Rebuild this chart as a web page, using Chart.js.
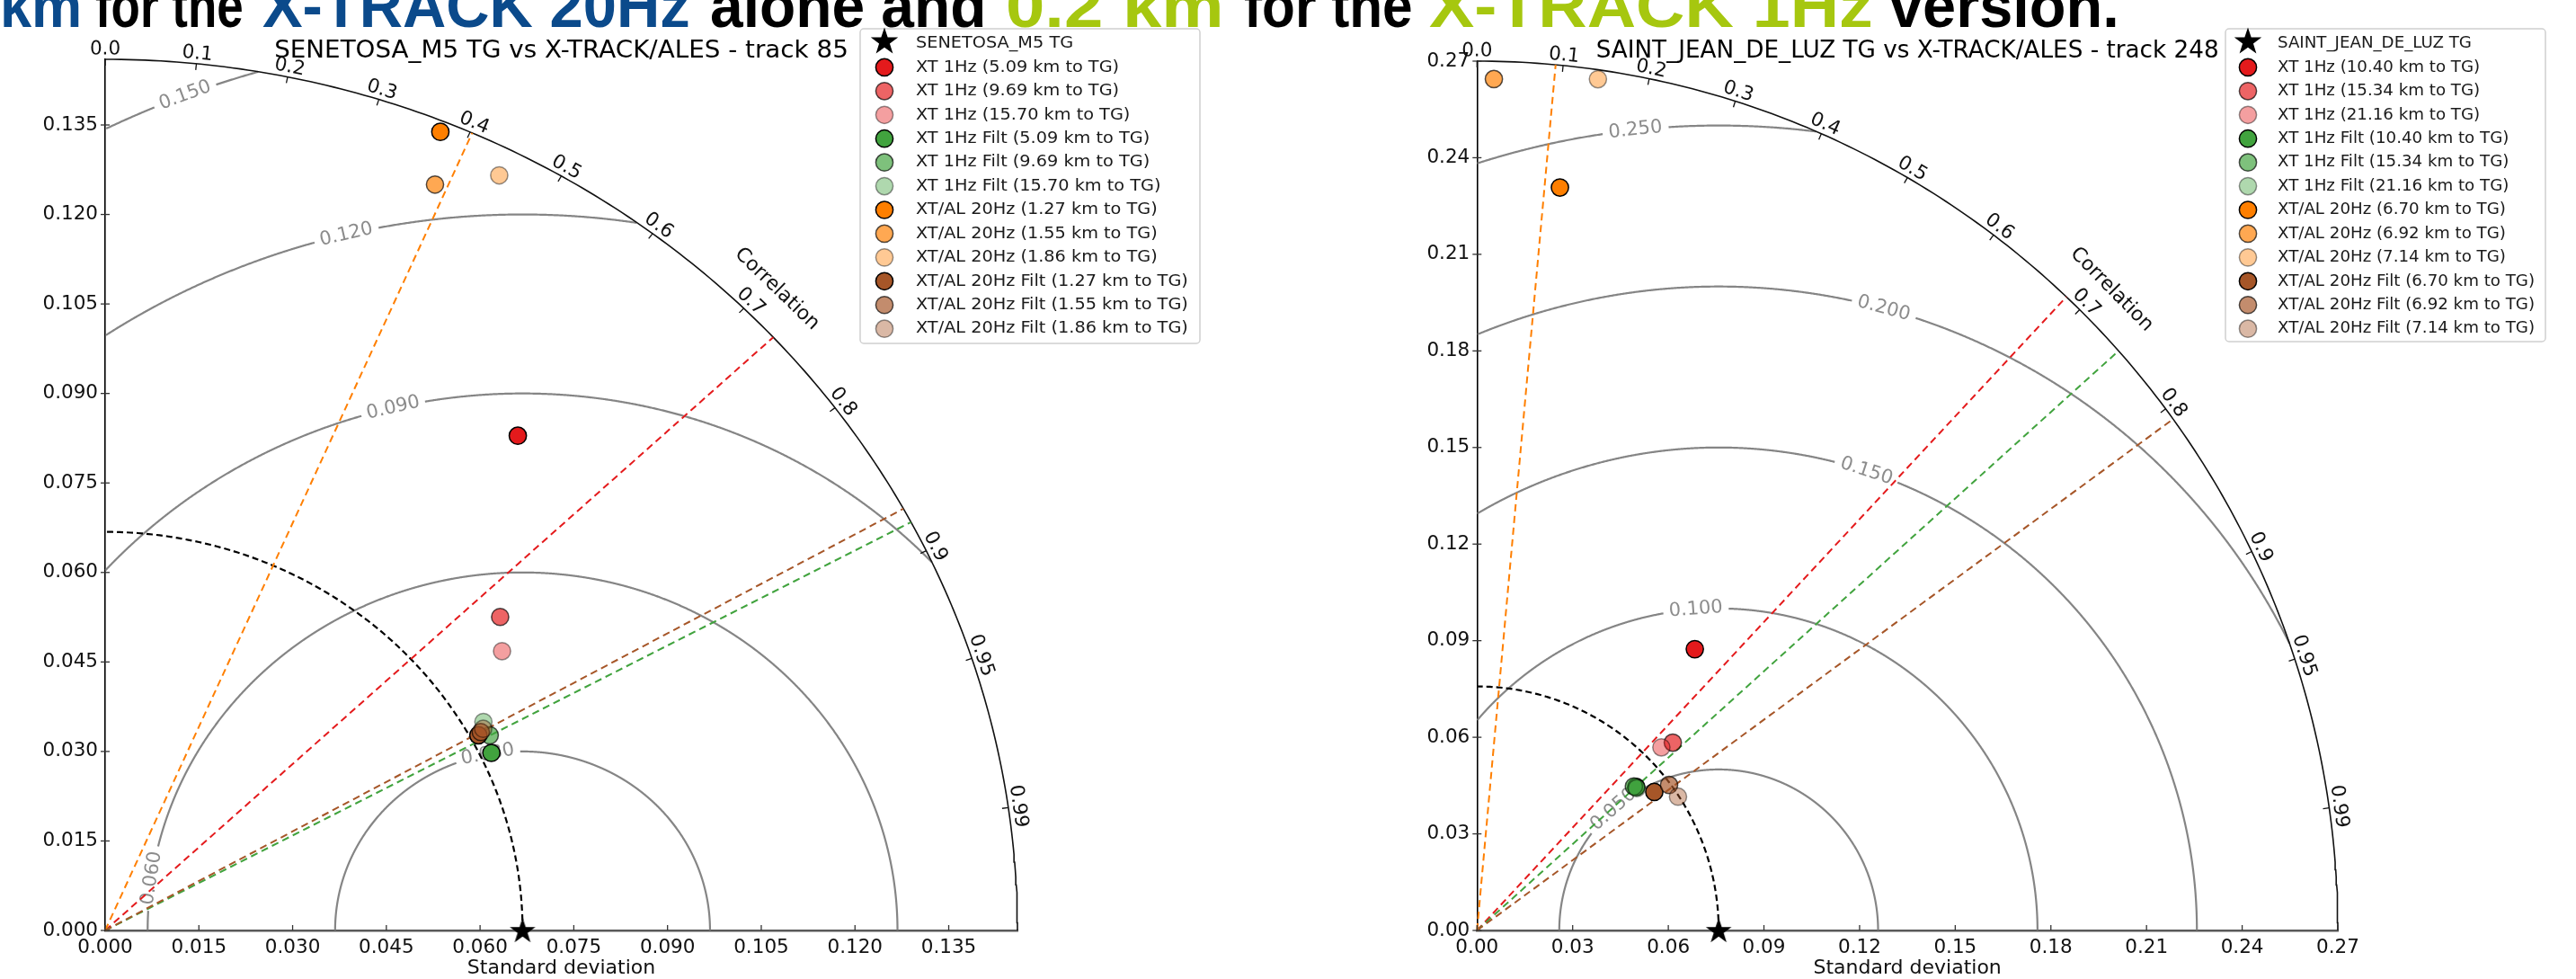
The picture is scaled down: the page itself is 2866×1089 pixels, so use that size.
<!DOCTYPE html>
<html>
<head>
<meta charset="utf-8">
<title>Taylor diagrams - X-TRACK / ALES vs tide gauges</title>
<script src="https://cdn.jsdelivr.net/npm/chart.js@4.4.0/dist/chart.umd.min.js"></script>
<style>
  html, body { margin: 0; padding: 0; background: #fff; }
  body { width: 2866px; height: 1089px; position: relative; overflow: hidden; }
  #banner span { position: absolute; top: -33px; line-height: 1; white-space: nowrap; transform-origin: 0 0;
                 font: bold 68px "Liberation Sans", Arial, sans-serif; color: #000; }
  #banner .blue { color: #0b4a8b; }
  #banner .lime { color: #a6c70f; }
  .panel { position: absolute; top: 0; width: 1433px; height: 1089px; }
</style>
</head>
<body>
<div id="banner">
  <span class="blue" data-l="0" data-r="91">km</span>
  <span data-l="106" data-r="271">for the</span>
  <span class="blue" data-l="292" data-r="768">X-TRACK 20Hz</span>
  <span data-l="790" data-r="1097">alone and</span>
  <span class="lime" data-l="1119" data-r="1362">0.2 km</span>
  <span data-l="1384" data-r="1572">for the</span>
  <span class="lime" data-l="1590" data-r="2084">X-TRACK 1Hz</span>
  <span data-l="2102" data-r="2358">version.</span>
</div>
<div class="panel" style="left:0"><canvas id="taylorLeft" width="1433" height="1089"></canvas></div>
<div class="panel" style="left:1433px"><canvas id="taylorRight" width="1433" height="1089"></canvas></div>

<script>
// ---- shared ----
const corrTickValues = [0, 0.1, 0.2, 0.3, 0.4, 0.5, 0.6, 0.7, 0.8, 0.9, 0.95, 0.99];
const kindNames = ["XT 1Hz", "XT 1Hz Filt", "XT/AL 20Hz", "XT/AL 20Hz Filt"];
const kindColors = [[228, 26, 28], [65, 163, 62], [255, 127, 0], [166, 86, 40]];
const shadeAlpha = [1, 0.68, 0.42];

// ---- SENETOSA_M5, track 85 ----
const senTitle = "SENETOSA_M5 TG vs X-TRACK/ALES - track 85";
const senRefName = "SENETOSA_M5 TG";
const senDist1Hz = ["5.09", "9.69", "15.70"];
const senDist20Hz = ["1.27", "1.55", "1.86"];
const senStd  = [0.1060, 0.0822, 0.0789, 0.0686, 0.0697, 0.0699, 0.1442, 0.1357, 0.1414, 0.0681, 0.0687, 0.0693];
const senCorr = [0.623, 0.769, 0.805, 0.901, 0.883, 0.866, 0.372, 0.389, 0.446, 0.877, 0.875, 0.873];
const senRefStd = 0.0668;
const senRmsLevels = [0.03, 0.06, 0.09, 0.12, 0.15];
const senStdTicks = [0, 0.015, 0.03, 0.045, 0.06, 0.075, 0.09, 0.105, 0.12, 0.135];

// ---- SAINT_JEAN_DE_LUZ, track 248 ----
const sjlTitle = "SAINT_JEAN_DE_LUZ TG vs X-TRACK/ALES - track 248";
const sjlRefName = "SAINT_JEAN_DE_LUZ TG";
const sjlDist1Hz = ["10.40", "15.34", "21.16"];
const sjlDist20Hz = ["6.70", "6.92", "7.14"];
const sjlStd  = [0.1109, 0.0847, 0.0811, 0.0669, 0.0665, 0.0668, 0.2322, 0.2645, 0.2671, 0.0703, 0.0753, 0.0755];
const sjlCorr = [0.616, 0.725, 0.713, 0.746, 0.740, 0.750, 0.112, 0.020, 0.142, 0.791, 0.800, 0.835];
const sjlRefStd = 0.0758;
const sjlRmsLevels = [0.05, 0.10, 0.15, 0.20, 0.25];
const sjlStdTicks = [0, 0.03, 0.06, 0.09, 0.12, 0.15, 0.18, 0.21, 0.24, 0.27];

// banner words: place each at its measured span
document.querySelectorAll("#banner span").forEach(s => {
  const l = +s.dataset.l, r = +s.dataset.r;
  s.style.left = l + "px";
  s.style.transform = `scaleX(${(r - l) / s.offsetWidth})`;
});

Chart.defaults.font.family = "'DejaVu Sans', sans-serif";
Chart.defaults.color = "#111";

const rgba = (c, a) => `rgba(${c[0]},${c[1]},${c[2]},${a})`;

function starPath(ctx, cx, cy, r) {
  ctx.beginPath();
  for (let i = 0; i < 10; i++) {
    const a = -Math.PI / 2 + i * Math.PI / 5;
    const rr = i % 2 === 0 ? r : r * 0.39;
    ctx.lineTo(cx + rr * Math.cos(a), cy + rr * Math.sin(a));
  }
  ctx.closePath();
}

function starImage(r) {
  const c = document.createElement("canvas");
  c.width = c.height = Math.ceil(2 * r + 4);
  const g = c.getContext("2d");
  starPath(g, c.width / 2, c.height / 2 + 1, r);
  g.fillStyle = "#000";
  g.fill();
  return c;
}

function buildLabels(d1, d20) {
  const out = [];
  kindNames.forEach((k, i) => {
    (i < 2 ? d1 : d20).forEach(d => out.push(`${k} (${d} km to TG)`));
  });
  return out;
}

// draws the RMS contours, correlation axis, title and legend around the scatter
function taylorDecor(d) {
  return {
    id: "taylorDecor",
    beforeDatasetsDraw(chart) {
      const ctx = chart.ctx, xs = chart.scales.x, ys = chart.scales.y;
      const P = (u, v) => [xs.getPixelForValue(u), ys.getPixelForValue(v)];
      ctx.save();
      ctx.font = '21px "DejaVu Sans"';
      ctx.textAlign = "center";
      ctx.textBaseline = "middle";
      d.rms.forEach((R, k) => {
        const phiL = d.rmsAt[k] * Math.PI / 180;
        const [lx, ly] = P(d.refStd + R * Math.cos(phiL), R * Math.sin(phiL));
        const txt = R.toFixed(3);
        const half = ctx.measureText(txt).width / 2 + 6;
        ctx.beginPath();
        let pen = false;
        for (let i = 0; i <= 2000; i++) {
          const phi = Math.PI * i / 2000;
          const u = d.refStd + R * Math.cos(phi), v = R * Math.sin(phi);
          const [px, py] = P(u, v);
          const ok = u >= 0 && u * u + v * v <= d.rmax * d.rmax && Math.hypot(px - lx, py - ly) > half;
          if (ok) { if (pen) ctx.lineTo(px, py); else ctx.moveTo(px, py); }
          pen = ok;
        }
        ctx.strokeStyle = "rgba(120,120,120,0.9)";
        ctx.lineWidth = 2.2;
        ctx.stroke();
        const [ax, ay] = P(d.refStd + R * Math.cos(phiL - 0.01), R * Math.sin(phiL - 0.01));
        const [bx, by] = P(d.refStd + R * Math.cos(phiL + 0.01), R * Math.sin(phiL + 0.01));
        let rot = Math.atan2(by - ay, bx - ax);
        if (rot > Math.PI / 2) rot -= Math.PI;
        if (rot <= -Math.PI / 2) rot += Math.PI;
        ctx.save();
        ctx.translate(lx, ly);
        ctx.rotate(rot);
        ctx.fillStyle = "#8c8c8c";
        ctx.fillText(txt, 0, 0);
        ctx.restore();
      });
      ctx.restore();
    },
    afterDraw(chart) {
      const ctx = chart.ctx, xs = chart.scales.x, ys = chart.scales.y, area = chart.chartArea;
      const P = (u, v) => [xs.getPixelForValue(u), ys.getPixelForValue(v)];
      const O = P(0, 0);
      ctx.save();
      // inward ticks on the std axes
      ctx.strokeStyle = "#333";
      ctx.lineWidth = 1.3;
      xs.ticks.forEach(t => {
        const px = xs.getPixelForValue(t.value);
        ctx.beginPath(); ctx.moveTo(px, area.bottom); ctx.lineTo(px, area.bottom - 6); ctx.stroke();
      });
      ys.ticks.forEach(t => {
        const py = ys.getPixelForValue(t.value);
        ctx.beginPath(); ctx.moveTo(area.left - 5, py); ctx.lineTo(area.left + 5, py); ctx.stroke();
      });

      // correlation ticks and labels on the outer arc
      const arcPoint = (th, off) => {
        const [ax, ay] = P(d.rmax * Math.cos(th), d.rmax * Math.sin(th));
        let nx = ax - O[0], ny = ay - O[1];
        const nl = Math.hypot(nx, ny);
        nx /= nl; ny /= nl;
        const [bx, by] = P(d.rmax * Math.cos(th - 0.01), d.rmax * Math.sin(th - 0.01));
        return { ax, ay, nx, ny, x: ax + nx * off, y: ay + ny * off, rot: Math.atan2(by - ay, bx - ax) };
      };
      ctx.font = '21.5px "DejaVu Sans"';
      ctx.textAlign = "center";
      ctx.textBaseline = "middle";
      ctx.fillStyle = "#111";
      ctx.strokeStyle = "#111";
      corrTickValues.forEach(c => {
        const p = arcPoint(Math.acos(c), 11);
        ctx.beginPath(); ctx.moveTo(p.ax, p.ay); ctx.lineTo(p.ax - p.nx * 7, p.ay - p.ny * 7); ctx.stroke();
        ctx.save(); ctx.translate(p.x, p.y); ctx.rotate(p.rot);
        ctx.fillText(c === 0 ? "0.0" : String(c), 0, 0);
        ctx.restore();
      });
      const pc = arcPoint(Math.PI / 4, 41);
      ctx.save(); ctx.translate(pc.x, pc.y); ctx.rotate(pc.rot);
      ctx.font = '22px "DejaVu Sans"';
      ctx.fillText("Correlation", 0, 0);
      ctx.restore();

      // title
      ctx.save();
      ctx.translate((area.left + area.right) / 2, 57);
      ctx.scale(d.stretch, 1);
      ctx.font = '26.5px "DejaVu Sans"';
      ctx.fillStyle = "#000";
      ctx.fillText(d.title, 0, 0);
      ctx.restore();

      // legend
      const L = d.legend;
      ctx.beginPath();
      ctx.roundRect(L.x, L.y, L.w, L.h, 4);
      ctx.fillStyle = "rgba(255,255,255,0.85)";
      ctx.fill();
      ctx.strokeStyle = "#d0d0d0";
      ctx.lineWidth = 1.5;
      ctx.stroke();
      ctx.textAlign = "left";
      ctx.font = '18.4px "DejaVu Sans"';
      const rowY = i => L.y + 16.5 + i * 26.43;
      starPath(ctx, L.mx, rowY(0) - 2, 16);
      ctx.fillStyle = "#000";
      ctx.fill();
      const names = [d.refName].concat(d.labels);
      names.forEach((name, i) => {
        const y = rowY(i);
        if (i > 0) {
          const k = Math.floor((i - 1) / 3), a = shadeAlpha[(i - 1) % 3];
          ctx.beginPath();
          ctx.arc(L.mx, y, 9.6, 0, 2 * Math.PI);
          ctx.fillStyle = rgba(kindColors[k], a);
          ctx.fill();
          ctx.strokeStyle = rgba([0, 0, 0], a);
          ctx.lineWidth = 1.5;
          ctx.stroke();
        }
        ctx.save();
        ctx.translate(L.tx, y);
        ctx.scale(d.stretch, 1);
        ctx.fillStyle = "#1a1a1a";
        ctx.fillText(name, 0, 0);
        ctx.restore();
      });
      ctx.restore();
    }
  };
}

function drawTaylor(canvasId, src, lay) {
  const labels = buildLabels(src.dist1Hz, src.dist20Hz);
  const datasets = [];
  const pt = (s, c) => ({ x: s * c, y: s * Math.sqrt(1 - c * c) });

  // outer arc and reference-std arc
  const arc = r => {
    const a = [];
    for (let i = 0; i <= 180; i++) {
      const th = (Math.PI / 2) * i / 180;
      a.push({ x: r * Math.cos(th), y: r * Math.sin(th) });
    }
    return a;
  };
  datasets.push({ data: arc(lay.rmax), showLine: true, borderColor: "#111", borderWidth: 1.6,
                  pointRadius: 0, order: 200, clip: false });
  datasets.push({ data: arc(src.refStd), showLine: true, borderColor: "#000", borderWidth: 2.2,
                  borderDash: [7, 4], pointRadius: 0, order: 150, clip: false });

  // mean correlation of each group, drawn as a dashed ray
  kindNames.forEach((k, g) => {
    const cs = src.corr.slice(g * 3, g * 3 + 3);
    const m = cs.reduce((s, v) => s + v, 0) / cs.length;
    datasets.push({ data: [{ x: 0, y: 0 }, pt(lay.rmax, m)], showLine: true,
                    borderColor: rgba(kindColors[g], 1), borderWidth: 2, borderDash: [8, 5],
                    pointRadius: 0, order: 120 - g, clip: false });
  });

  // one dataset per product
  labels.forEach((lab, i) => {
    const k = Math.floor(i / 3), a = shadeAlpha[i % 3];
    datasets.push({ label: lab, data: [pt(src.std[i], src.corr[i])],
                    backgroundColor: rgba(kindColors[k], a), borderColor: rgba([0, 0, 0], a),
                    borderWidth: 1.5, pointRadius: 9.6, order: 50 - i, clip: false });
  });

  // reference tide gauge
  datasets.push({ label: src.refName, data: [{ x: src.refStd, y: 0 }], pointStyle: starImage(15),
                  pointRadius: 15, order: 0, clip: false });

  const fmt = v => Number(v).toFixed(lay.decimals);
  const ticksFrom = arr => s => { s.ticks = arr.map(v => ({ value: v })); };

  new Chart(document.getElementById(canvasId), {
    type: "scatter",
    data: { datasets },
    options: {
      responsive: false,
      devicePixelRatio: 1,
      animation: false,
      events: [],
      layout: { padding: lay.padding },
      plugins: { legend: { display: false }, tooltip: { enabled: false }, title: { display: false } },
      scales: {
        x: {
          type: "linear", min: 0, max: lay.rmax,
          afterBuildTicks: ticksFrom(src.ticks),
          afterFit: s => { s.height = 54; },
          ticks: { callback: fmt, padding: 7, autoSkip: false, maxRotation: 0, font: { size: 21.5 }, color: "#111" },
          grid: { drawOnChartArea: false, drawTicks: false },
          border: { color: "#5a5a5a", width: 2.5 },
          title: { display: true, text: "Standard deviation", font: { size: 22, lineHeight: 1 },
                   padding: { top: 0, bottom: 1 }, color: "#111" }
        },
        y: {
          type: "linear", min: 0, max: lay.rmax,
          afterBuildTicks: ticksFrom(src.ticks),
          afterFit: s => { s.width = 117; },
          ticks: { callback: fmt, padding: 8, autoSkip: false, font: { size: 21.5 }, color: "#111" },
          grid: { drawOnChartArea: false, drawTicks: false },
          border: { color: "#000", width: 1.6 }
        }
      }
    },
    plugins: [taylorDecor({
      refStd: src.refStd, rmax: lay.rmax, rms: src.rms, rmsAt: lay.rmsAt, stretch: lay.stretch,
      title: src.title, refName: src.refName, labels, legend: lay.legend
    })]
  });
}

drawTaylor("taylorLeft",
  { title: senTitle, refName: senRefName, dist1Hz: senDist1Hz, dist20Hz: senDist20Hz,
    std: senStd, corr: senCorr, refStd: senRefStd, rms: senRmsLevels, ticks: senStdTicks },
  { rmax: 0.146, decimals: 3, padding: { left: 0, top: 66, right: 301, bottom: 0 },
    rmsAt: [100.7, 171.6, 103.3, 103.6, 111.1], stretch: 1.048,
    legend: { x: 957, y: 32, w: 378, h: 350, mx: 984, tx: 1019 } });

drawTaylor("taylorRight",
  { title: sjlTitle, refName: sjlRefName, dist1Hz: sjlDist1Hz, dist20Hz: sjlDist20Hz,
    std: sjlStd, corr: sjlCorr, refStd: sjlRefStd, rms: sjlRmsLevels, ticks: sjlStdTicks },
  { rmax: 0.27, decimals: 2, padding: { left: 93.3, top: 68, right: 265, bottom: 0 },
    rmsAt: [131.3, 94.1, 72, 75, 96], stretch: 0.99,
    legend: { x: 1043, y: 32, w: 356, h: 348, mx: 1068, tx: 1101 } });
</script>
</body>
</html>
